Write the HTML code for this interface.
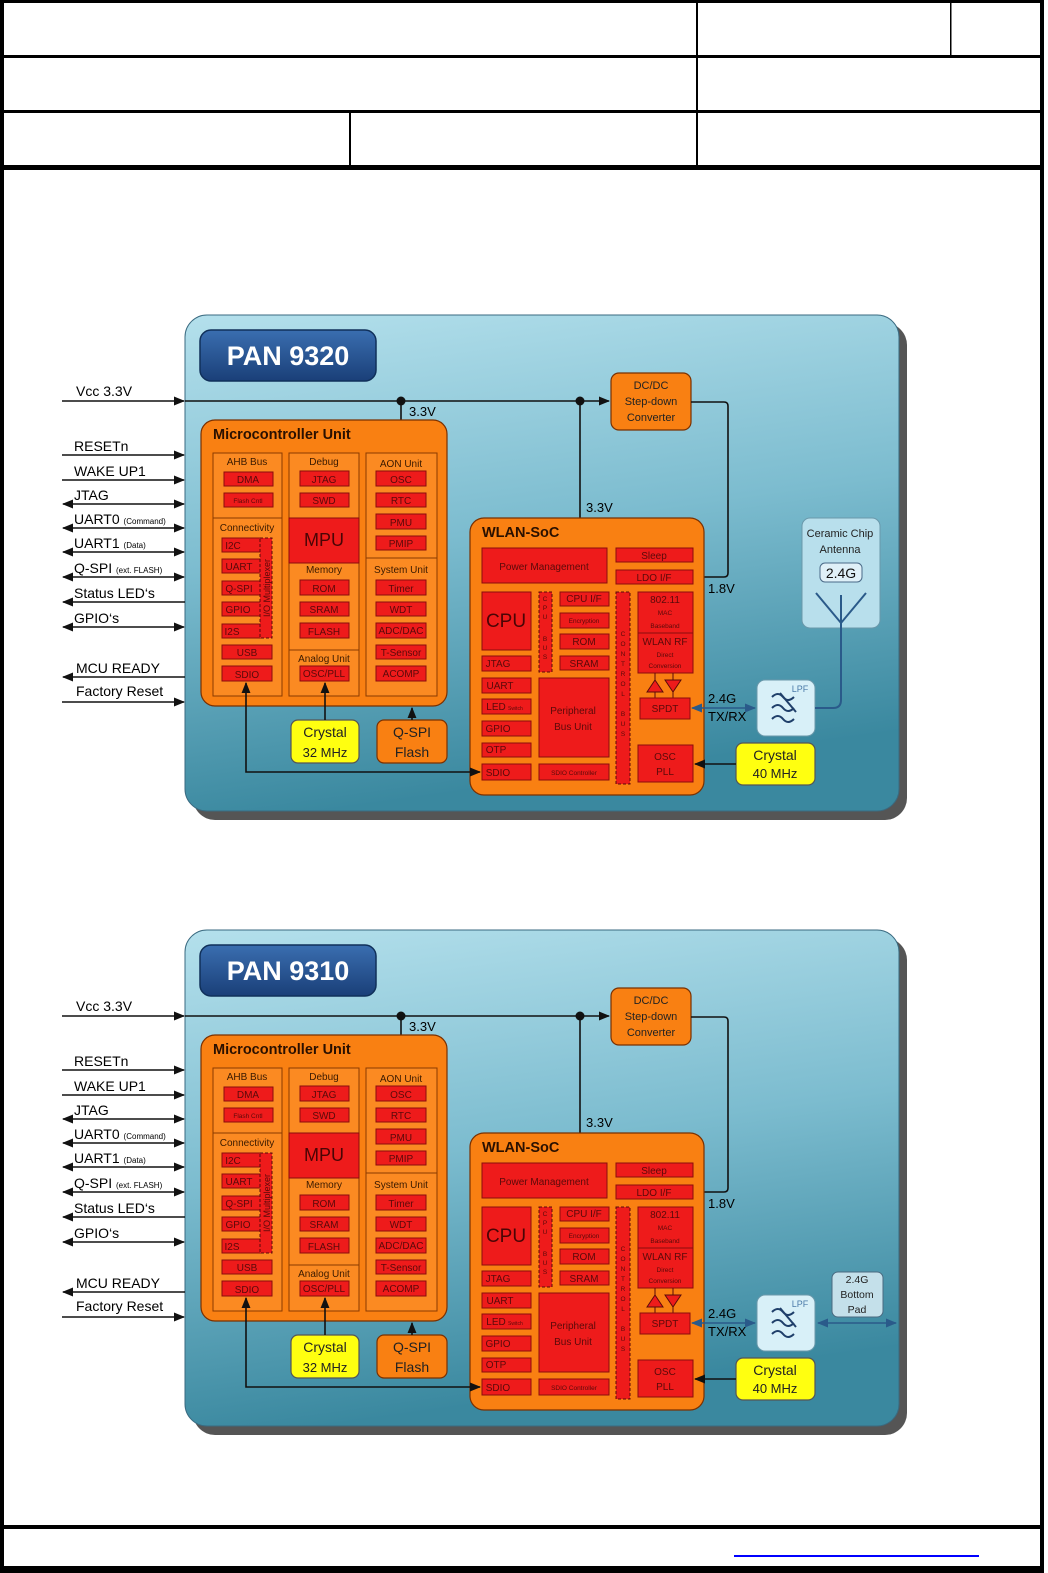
<!DOCTYPE html>
<html><head><meta charset="utf-8">
<style>
html,body{margin:0;padding:0;background:#fff;}
svg{display:block;}
text{font-family:"Liberation Sans",sans-serif;}
.r{fill:#ee1b1b;stroke:#8a0c0c;stroke-width:1;}
.rt{fill:#5a0a0a;font-size:10px;text-anchor:middle;}
.st{fill:#5a0a0a;font-size:6.5px;text-anchor:middle;}
.col{fill:#fb8a22;stroke:#8a3a00;stroke-width:1;}
.ch{fill:#3a1a00;font-size:10px;text-anchor:middle;}
.sig{fill:#000;font-size:14px;}
.ln{stroke:#111;stroke-width:1.6;fill:none;}
.bl{stroke:#2a5a8a;stroke-width:1.6;fill:none;}
.org{fill:#f98012;stroke:#7a3000;stroke-width:1.2;}
.yel{fill:#ffff10;stroke:#555;stroke-width:1.2;}
.lbl{fill:#000;font-size:13px;}
</style></head>
<body>
<svg width="1048" height="1573" viewBox="0 0 1048 1573" xmlns="http://www.w3.org/2000/svg">
<defs>
<linearGradient id="pg" x1="0" y1="0" x2="0.2" y2="1">
<stop offset="0" stop-color="#b4e0ec"/><stop offset="0.5" stop-color="#7cbccf"/><stop offset="1" stop-color="#3a889f"/>
</linearGradient>
<linearGradient id="tg" x1="0" y1="0" x2="0" y2="1">
<stop offset="0" stop-color="#3a6eb0"/><stop offset="1" stop-color="#1a3f78"/>
</linearGradient>
<marker id="ar" viewBox="0 0 10 10" refX="9" refY="5" markerWidth="7" markerHeight="7" orient="auto-start-reverse"><path d="M0,1 L10,5 L0,9 z" fill="#111"/></marker>
<marker id="ab" viewBox="0 0 10 10" refX="9" refY="5" markerWidth="7" markerHeight="7" orient="auto-start-reverse"><path d="M0,1 L10,5 L0,9 z" fill="#2a5a8a"/></marker>
</defs>

<rect x="0" y="0" width="1048" height="1573" fill="#fff"/>
<rect x="0" y="0" width="1044" height="3" fill="#000"/>
<rect x="0" y="0" width="4" height="1573" fill="#000"/>
<rect x="1040" y="0" width="4" height="1573" fill="#000"/>
<rect x="0" y="55" width="1044" height="3" fill="#000"/>
<rect x="0" y="110" width="1044" height="3" fill="#000"/>
<rect x="0" y="165" width="1044" height="5" fill="#000"/>
<rect x="696" y="0" width="2" height="168" fill="#000"/>
<rect x="950" y="0" width="1.5" height="57" fill="#000"/>
<rect x="349" y="112" width="2" height="56" fill="#000"/>
<rect x="0" y="1525" width="1044" height="4" fill="#000"/>
<rect x="0" y="1566" width="1044" height="7" fill="#000"/>
<rect x="734" y="1555" width="245" height="2" fill="#0000ff"/>

<!-- BLOCK 1 -->
<g id="b1">
<rect x="193" y="323" width="714" height="497" rx="22" fill="#555"/>
<rect x="185" y="315" width="714" height="496" rx="22" fill="url(#pg)" stroke="#3a6a80" stroke-width="1"/>
<rect x="200" y="330" width="176" height="51" rx="11" fill="url(#tg)" stroke="#10305a" stroke-width="1.5"/>
<text x="288" y="365" font-size="27" font-weight="bold" fill="#fff" text-anchor="middle">PAN 9320</text>

<g class="ln">
<line x1="62" y1="401" x2="184" y2="401" marker-end="url(#ar)"/>
<line x1="62" y1="455" x2="184" y2="455" marker-end="url(#ar)"/>
<line x1="62" y1="480" x2="184" y2="480" marker-end="url(#ar)"/>
<line x1="63" y1="504" x2="184" y2="504" marker-start="url(#ar)" marker-end="url(#ar)"/>
<line x1="63" y1="528" x2="184" y2="528" marker-start="url(#ar)" marker-end="url(#ar)"/>
<line x1="63" y1="552" x2="184" y2="552" marker-start="url(#ar)" marker-end="url(#ar)"/>
<line x1="63" y1="577" x2="184" y2="577" marker-start="url(#ar)" marker-end="url(#ar)"/>
<line x1="63" y1="602" x2="185" y2="602" marker-start="url(#ar)"/>
<line x1="63" y1="627" x2="184" y2="627" marker-start="url(#ar)" marker-end="url(#ar)"/>
<line x1="63" y1="677" x2="185" y2="677" marker-start="url(#ar)"/>
<line x1="62" y1="702" x2="184" y2="702" marker-end="url(#ar)"/>
</g>
<text class="sig" x="76" y="396">Vcc 3.3V</text>
<text class="sig" x="74" y="451">RESETn</text>
<text class="sig" x="74" y="476">WAKE UP1</text>
<text class="sig" x="74" y="500">JTAG</text>
<text class="sig" x="74" y="524">UART0 <tspan font-size="8">(Command)</tspan></text>
<text class="sig" x="74" y="548">UART1 <tspan font-size="8">(Data)</tspan></text>
<text class="sig" x="74" y="573">Q-SPI <tspan font-size="8">(ext. FLASH)</tspan></text>
<text class="sig" x="74" y="598">Status LED‘s</text>
<text class="sig" x="74" y="623">GPIO‘s</text>
<text class="sig" x="76" y="673">MCU READY</text>
<text class="sig" x="76" y="696">Factory Reset</text>

<line class="ln" x1="185" y1="401" x2="609" y2="401" marker-end="url(#ar)"/>
<circle cx="401" cy="401" r="4.5" fill="#111"/>
<circle cx="580" cy="401" r="4.5" fill="#111"/>
<line class="ln" x1="401" y1="401" x2="401" y2="452" marker-end="url(#ar)"/>
<text class="lbl" x="409" y="416">3.3V</text>
<line class="ln" x1="580" y1="401" x2="580" y2="547" marker-end="url(#ar)"/>
<text class="lbl" x="586" y="512">3.3V</text>
<rect class="org" x="611" y="373" width="80" height="57" rx="8"/>
<text x="651" y="389" font-size="11" text-anchor="middle" fill="#222">DC/DC</text>
<text x="651" y="405" font-size="11" text-anchor="middle" fill="#222">Step-down</text>
<text x="651" y="421" font-size="11" text-anchor="middle" fill="#222">Converter</text>
<path class="ln" d="M691,402 H724 Q728,402 728,406 V573 Q728,577 724,577 H694" marker-end="url(#ar)"/>
<text class="lbl" x="708" y="593">1.8V</text>

<rect class="org" x="201" y="420" width="246" height="286" rx="14" stroke-width="1.8"/>
<text x="213" y="439" font-size="14.5" font-weight="bold" fill="#2a1000">Microcontroller Unit</text>
<rect class="col" x="213" y="453" width="69" height="243"/>
<rect class="col" x="289" y="453" width="70" height="243"/>
<rect class="col" x="366" y="453" width="71" height="243"/>
<line x1="213" y1="518" x2="282" y2="518" stroke="#8a3a00"/>
<line x1="366" y1="558" x2="437" y2="558" stroke="#8a3a00"/>
<line x1="289" y1="650" x2="359" y2="650" stroke="#8a3a00"/>
<text class="ch" x="247" y="465">AHB Bus</text>
<rect class="r" x="224" y="472" width="49" height="14"/><text class="rt" x="248" y="483">DMA</text>
<rect class="r" x="224" y="493" width="49" height="14"/><text class="st" x="248" y="503">Flash Cntl</text>
<text class="ch" x="247" y="531">Connectivity</text>
<rect class="r" x="222" y="538" width="40" height="14"/><text class="rt" x="233" y="549">I2C</text>
<rect class="r" x="222" y="559" width="40" height="14"/><text class="rt" x="239" y="570">UART</text>
<rect class="r" x="222" y="581" width="40" height="14"/><text class="rt" x="239" y="592">Q-SPI</text>
<rect class="r" x="222" y="602" width="40" height="14"/><text class="rt" x="238" y="613">GPIO</text>
<rect class="r" x="222" y="624" width="40" height="14"/><text class="rt" x="232" y="635">I2S</text>
<rect x="260" y="538" width="12" height="100" fill="#ee1b1b" stroke="#5a0a0a" stroke-dasharray="3,2"/>
<text x="270" y="588" font-size="9" fill="#5a0a0a" text-anchor="middle" transform="rotate(-90 270 588)">I/O Multiplexer</text>
<rect class="r" x="222" y="645" width="50" height="14"/><text class="rt" x="247" y="656">USB</text>
<rect class="r" x="222" y="666" width="50" height="15"/><text class="rt" x="247" y="678">SDIO</text>

<text class="ch" x="324" y="465">Debug</text>
<rect class="r" x="300" y="471" width="49" height="15"/><text class="rt" x="324" y="483">JTAG</text>
<rect class="r" x="300" y="493" width="49" height="14"/><text class="rt" x="324" y="504">SWD</text>
<rect x="289" y="518" width="70" height="45" fill="#ee1b1b" stroke="#8a0c0c"/>
<text x="324" y="546" font-size="18" fill="#4a0505" text-anchor="middle">MPU</text>
<text class="ch" x="324" y="573">Memory</text>
<rect class="r" x="300" y="580" width="49" height="15"/><text class="rt" x="324" y="592">ROM</text>
<rect class="r" x="300" y="602" width="49" height="14"/><text class="rt" x="324" y="613">SRAM</text>
<rect class="r" x="300" y="623" width="49" height="15"/><text class="rt" x="324" y="635">FLASH</text>
<text class="ch" x="324" y="662">Analog Unit</text>
<rect class="r" x="300" y="666" width="49" height="15"/><text class="rt" x="324" y="677" font-size="8.5">OSC/PLL</text>

<text class="ch" x="401" y="467">AON Unit</text>
<rect class="r" x="376" y="471" width="50" height="15"/><text class="rt" x="401" y="483">OSC</text>
<rect class="r" x="376" y="493" width="50" height="14"/><text class="rt" x="401" y="504">RTC</text>
<rect class="r" x="376" y="514" width="50" height="15"/><text class="rt" x="401" y="526">PMU</text>
<rect class="r" x="376" y="536" width="50" height="14"/><text class="rt" x="401" y="547">PMIP</text>
<text class="ch" x="401" y="573">System Unit</text>
<rect class="r" x="376" y="580" width="50" height="15"/><text class="rt" x="401" y="592">Timer</text>
<rect class="r" x="376" y="602" width="50" height="14"/><text class="rt" x="401" y="613">WDT</text>
<rect class="r" x="376" y="623" width="50" height="15"/><text class="rt" x="401" y="634" font-size="8">ADC/DAC</text>
<rect class="r" x="376" y="645" width="50" height="14"/><text class="rt" x="401" y="656" font-size="9">T-Sensor</text>
<rect class="r" x="376" y="666" width="50" height="15"/><text class="rt" x="401" y="677" font-size="9">ACOMP</text>

<rect class="yel" x="291" y="720" width="68" height="43" rx="7"/>
<text x="325" y="737" font-size="14" text-anchor="middle" fill="#222">Crystal</text>
<text x="325" y="757" font-size="13" text-anchor="middle" fill="#222">32 MHz</text>
<line class="ln" x1="325" y1="720" x2="325" y2="683" marker-end="url(#ar)"/>
<rect class="org" x="377" y="720" width="70" height="43" rx="7"/>
<text x="412" y="737" font-size="14" text-anchor="middle" fill="#222">Q-SPI</text>
<text x="412" y="757" font-size="14" text-anchor="middle" fill="#222">Flash</text>
<line class="ln" x1="412" y1="720" x2="412" y2="708" marker-end="url(#ar)"/>

<rect class="org" x="470" y="518" width="234" height="277" rx="14" stroke-width="1.8"/>
<text x="482" y="537" font-size="14.5" font-weight="bold" fill="#2a1000">WLAN-SoC</text>
<rect class="r" x="482" y="548" width="125" height="35"/><text class="rt" x="544" y="570" font-size="11">Power Management</text>
<rect class="r" x="616" y="548" width="77" height="14"/><text class="rt" x="654" y="559">Sleep</text>
<rect class="r" x="616" y="570" width="77" height="14"/><text class="rt" x="654" y="581">LDO I/F</text>
<rect class="r" x="482" y="592" width="49" height="58"/><text x="506" y="627" font-size="19" text-anchor="middle" fill="#4a0505">CPU</text>
<rect x="539" y="592" width="13" height="80" fill="#ee1b1b" stroke="#5a0a0a" stroke-dasharray="3,2"/>
<text class="st" x="545" y="601">C</text><text class="st" x="545" y="610">P</text><text class="st" x="545" y="619">U</text>
<text class="st" x="545" y="641">B</text><text class="st" x="545" y="650">U</text><text class="st" x="545" y="659">S</text>
<rect class="r" x="560" y="592" width="49" height="14"/><text class="rt" x="584" y="602" font-size="8.5">CPU I/F</text>
<rect class="r" x="560" y="613" width="49" height="15"/><text class="st" x="584" y="623">Encryption</text>
<rect class="r" x="560" y="634" width="49" height="15"/><text class="rt" x="584" y="645" font-size="9">ROM</text>
<rect class="r" x="560" y="656" width="49" height="14"/><text class="rt" x="584" y="667" font-size="9">SRAM</text>
<rect x="616" y="592" width="14" height="192" fill="#ee1b1b" stroke="#5a0a0a" stroke-dasharray="3,2"/>
<text class="st" x="623" y="636">C</text><text class="st" x="623" y="646">O</text><text class="st" x="623" y="656">N</text><text class="st" x="623" y="666">T</text><text class="st" x="623" y="676">R</text><text class="st" x="623" y="686">O</text><text class="st" x="623" y="696">L</text>
<text class="st" x="623" y="716">B</text><text class="st" x="623" y="726">U</text><text class="st" x="623" y="736">S</text>
<rect class="r" x="638" y="592" width="55" height="81"/>
<line x1="638" y1="633" x2="693" y2="633" stroke="#8a0c0c"/>
<text class="rt" x="665" y="603" font-size="10.5">802.11</text>
<text class="st" x="665" y="615">MAC</text><text class="st" x="665" y="628">Baseband</text>
<text class="rt" x="665" y="645" font-size="10">WLAN RF</text>
<text class="st" x="665" y="657">Direct</text><text class="st" x="665" y="668">Conversion</text>
<line x1="655" y1="673" x2="655" y2="680" stroke="#5a0a0a"/><line x1="673" y1="673" x2="673" y2="680" stroke="#5a0a0a"/>
<path d="M647,692 L655,680 L663,692 z" fill="#ee1b1b" stroke="#5a0a0a"/>
<path d="M665,680 L681,680 L673,692 z" fill="#ee1b1b" stroke="#5a0a0a"/>
<line x1="655" y1="692" x2="655" y2="698" stroke="#5a0a0a"/><line x1="673" y1="692" x2="673" y2="698" stroke="#5a0a0a"/>
<rect class="r" x="640" y="698" width="50" height="21"/><text class="rt" x="665" y="712" font-size="11">SPDT</text>
<rect class="r" x="482" y="656" width="49" height="15"/><text class="rt" x="498" y="667">JTAG</text>
<rect class="r" x="482" y="678" width="49" height="15"/><text class="rt" x="500" y="689">UART</text>
<rect class="r" x="482" y="699" width="49" height="15"/><text class="rt" x="496" y="710">LED</text><text x="508" y="710" font-size="5" fill="#5a0a0a">Switch</text>
<rect class="r" x="482" y="721" width="49" height="15"/><text class="rt" x="498" y="732">GPIO</text>
<rect class="r" x="482" y="743" width="49" height="14"/><text class="rt" x="496" y="753">OTP</text>
<rect class="r" x="482" y="764" width="49" height="16"/><text class="rt" x="498" y="776">SDIO</text>
<rect class="r" x="539" y="678" width="70" height="79"/>
<text class="rt" x="573" y="714" font-size="11.5">Peripheral</text><text class="rt" x="573" y="730" font-size="11.5">Bus Unit</text>
<rect class="r" x="539" y="764" width="70" height="16"/><text class="st" x="574" y="775" font-size="8">SDIO Controller</text>
<rect class="r" x="638" y="745" width="55" height="37"/>
<text class="rt" x="665" y="760" font-size="11">OSC</text><text class="rt" x="665" y="775" font-size="11">PLL</text>
<path class="ln" d="M246,683 V772 H480" marker-start="url(#ar)" marker-end="url(#ar)"/>

<line class="bl" x1="692" y1="708" x2="755" y2="708" marker-start="url(#ab)" marker-end="url(#ab)"/>
<text class="lbl" x="708" y="703">2.4G</text><text class="lbl" x="708" y="721">TX/RX</text>
<rect x="757" y="680" width="58" height="56" rx="8" fill="#d8f0f8" stroke="#6a98aa"/>
<text x="800" y="692" font-size="9" fill="#4a7aa8" text-anchor="middle">LPF</text>
<g stroke="#1f3f6a" stroke-width="2" fill="none">
<path d="M772,697 q6,-6 11,0 t11,0"/><path d="M772,708 q6,-6 11,0 t11,0"/><path d="M772,719 q6,-6 11,0 t11,0"/>
<path d="M780,693 L796,712"/>
</g>
<rect class="yel" x="736" y="743" width="79" height="42" rx="7"/>
<text x="775" y="760" font-size="14" text-anchor="middle" fill="#222">Crystal</text>
<text x="775" y="778" font-size="13" text-anchor="middle" fill="#222">40 MHz</text>
<line class="ln" x1="736" y1="764" x2="695" y2="764" marker-end="url(#ar)"/>
<rect x="802" y="518" width="78" height="110" rx="8" fill="#b8dfec" stroke="#6a98aa"/>
<text x="840" y="537" font-size="11" text-anchor="middle" fill="#222">Ceramic Chip</text>
<text x="840" y="553" font-size="11" text-anchor="middle" fill="#222">Antenna</text>
<rect x="820" y="563" width="42" height="19" rx="5" fill="#dff0f8" stroke="#4a6a88"/>
<text x="841" y="578" font-size="14" text-anchor="middle" fill="#111">2.4G</text>
<g stroke="#2a5a8a" stroke-width="2" fill="none">
<path d="M816,593 L841,623 L866,593"/><line x1="841" y1="595" x2="841" y2="623"/>
<path d="M841,623 V700 Q841,708 833,708 H815"/>
</g>
</g>

<!-- BLOCK 2 -->
<g transform="translate(0,615)">
<rect x="193" y="323" width="714" height="497" rx="22" fill="#555"/>
<rect x="185" y="315" width="714" height="496" rx="22" fill="url(#pg)" stroke="#3a6a80" stroke-width="1"/>
<rect x="200" y="330" width="176" height="51" rx="11" fill="url(#tg)" stroke="#10305a" stroke-width="1.5"/>
<text x="288" y="365" font-size="27" font-weight="bold" fill="#fff" text-anchor="middle">PAN 9310</text>

<g class="ln">
<line x1="62" y1="401" x2="184" y2="401" marker-end="url(#ar)"/>
<line x1="62" y1="455" x2="184" y2="455" marker-end="url(#ar)"/>
<line x1="62" y1="480" x2="184" y2="480" marker-end="url(#ar)"/>
<line x1="63" y1="504" x2="184" y2="504" marker-start="url(#ar)" marker-end="url(#ar)"/>
<line x1="63" y1="528" x2="184" y2="528" marker-start="url(#ar)" marker-end="url(#ar)"/>
<line x1="63" y1="552" x2="184" y2="552" marker-start="url(#ar)" marker-end="url(#ar)"/>
<line x1="63" y1="577" x2="184" y2="577" marker-start="url(#ar)" marker-end="url(#ar)"/>
<line x1="63" y1="602" x2="185" y2="602" marker-start="url(#ar)"/>
<line x1="63" y1="627" x2="184" y2="627" marker-start="url(#ar)" marker-end="url(#ar)"/>
<line x1="63" y1="677" x2="185" y2="677" marker-start="url(#ar)"/>
<line x1="62" y1="702" x2="184" y2="702" marker-end="url(#ar)"/>
</g>
<text class="sig" x="76" y="396">Vcc 3.3V</text>
<text class="sig" x="74" y="451">RESETn</text>
<text class="sig" x="74" y="476">WAKE UP1</text>
<text class="sig" x="74" y="500">JTAG</text>
<text class="sig" x="74" y="524">UART0 <tspan font-size="8">(Command)</tspan></text>
<text class="sig" x="74" y="548">UART1 <tspan font-size="8">(Data)</tspan></text>
<text class="sig" x="74" y="573">Q-SPI <tspan font-size="8">(ext. FLASH)</tspan></text>
<text class="sig" x="74" y="598">Status LED‘s</text>
<text class="sig" x="74" y="623">GPIO‘s</text>
<text class="sig" x="76" y="673">MCU READY</text>
<text class="sig" x="76" y="696">Factory Reset</text>

<line class="ln" x1="185" y1="401" x2="609" y2="401" marker-end="url(#ar)"/>
<circle cx="401" cy="401" r="4.5" fill="#111"/>
<circle cx="580" cy="401" r="4.5" fill="#111"/>
<line class="ln" x1="401" y1="401" x2="401" y2="452" marker-end="url(#ar)"/>
<text class="lbl" x="409" y="416">3.3V</text>
<line class="ln" x1="580" y1="401" x2="580" y2="547" marker-end="url(#ar)"/>
<text class="lbl" x="586" y="512">3.3V</text>
<rect class="org" x="611" y="373" width="80" height="57" rx="8"/>
<text x="651" y="389" font-size="11" text-anchor="middle" fill="#222">DC/DC</text>
<text x="651" y="405" font-size="11" text-anchor="middle" fill="#222">Step-down</text>
<text x="651" y="421" font-size="11" text-anchor="middle" fill="#222">Converter</text>
<path class="ln" d="M691,402 H724 Q728,402 728,406 V573 Q728,577 724,577 H694" marker-end="url(#ar)"/>
<text class="lbl" x="708" y="593">1.8V</text>

<rect class="org" x="201" y="420" width="246" height="286" rx="14" stroke-width="1.8"/>
<text x="213" y="439" font-size="14.5" font-weight="bold" fill="#2a1000">Microcontroller Unit</text>
<rect class="col" x="213" y="453" width="69" height="243"/>
<rect class="col" x="289" y="453" width="70" height="243"/>
<rect class="col" x="366" y="453" width="71" height="243"/>
<line x1="213" y1="518" x2="282" y2="518" stroke="#8a3a00"/>
<line x1="366" y1="558" x2="437" y2="558" stroke="#8a3a00"/>
<line x1="289" y1="650" x2="359" y2="650" stroke="#8a3a00"/>
<text class="ch" x="247" y="465">AHB Bus</text>
<rect class="r" x="224" y="472" width="49" height="14"/><text class="rt" x="248" y="483">DMA</text>
<rect class="r" x="224" y="493" width="49" height="14"/><text class="st" x="248" y="503">Flash Cntl</text>
<text class="ch" x="247" y="531">Connectivity</text>
<rect class="r" x="222" y="538" width="40" height="14"/><text class="rt" x="233" y="549">I2C</text>
<rect class="r" x="222" y="559" width="40" height="14"/><text class="rt" x="239" y="570">UART</text>
<rect class="r" x="222" y="581" width="40" height="14"/><text class="rt" x="239" y="592">Q-SPI</text>
<rect class="r" x="222" y="602" width="40" height="14"/><text class="rt" x="238" y="613">GPIO</text>
<rect class="r" x="222" y="624" width="40" height="14"/><text class="rt" x="232" y="635">I2S</text>
<rect x="260" y="538" width="12" height="100" fill="#ee1b1b" stroke="#5a0a0a" stroke-dasharray="3,2"/>
<text x="270" y="588" font-size="9" fill="#5a0a0a" text-anchor="middle" transform="rotate(-90 270 588)">I/O Multiplexer</text>
<rect class="r" x="222" y="645" width="50" height="14"/><text class="rt" x="247" y="656">USB</text>
<rect class="r" x="222" y="666" width="50" height="15"/><text class="rt" x="247" y="678">SDIO</text>

<text class="ch" x="324" y="465">Debug</text>
<rect class="r" x="300" y="471" width="49" height="15"/><text class="rt" x="324" y="483">JTAG</text>
<rect class="r" x="300" y="493" width="49" height="14"/><text class="rt" x="324" y="504">SWD</text>
<rect x="289" y="518" width="70" height="45" fill="#ee1b1b" stroke="#8a0c0c"/>
<text x="324" y="546" font-size="18" fill="#4a0505" text-anchor="middle">MPU</text>
<text class="ch" x="324" y="573">Memory</text>
<rect class="r" x="300" y="580" width="49" height="15"/><text class="rt" x="324" y="592">ROM</text>
<rect class="r" x="300" y="602" width="49" height="14"/><text class="rt" x="324" y="613">SRAM</text>
<rect class="r" x="300" y="623" width="49" height="15"/><text class="rt" x="324" y="635">FLASH</text>
<text class="ch" x="324" y="662">Analog Unit</text>
<rect class="r" x="300" y="666" width="49" height="15"/><text class="rt" x="324" y="677" font-size="8.5">OSC/PLL</text>

<text class="ch" x="401" y="467">AON Unit</text>
<rect class="r" x="376" y="471" width="50" height="15"/><text class="rt" x="401" y="483">OSC</text>
<rect class="r" x="376" y="493" width="50" height="14"/><text class="rt" x="401" y="504">RTC</text>
<rect class="r" x="376" y="514" width="50" height="15"/><text class="rt" x="401" y="526">PMU</text>
<rect class="r" x="376" y="536" width="50" height="14"/><text class="rt" x="401" y="547">PMIP</text>
<text class="ch" x="401" y="573">System Unit</text>
<rect class="r" x="376" y="580" width="50" height="15"/><text class="rt" x="401" y="592">Timer</text>
<rect class="r" x="376" y="602" width="50" height="14"/><text class="rt" x="401" y="613">WDT</text>
<rect class="r" x="376" y="623" width="50" height="15"/><text class="rt" x="401" y="634" font-size="8">ADC/DAC</text>
<rect class="r" x="376" y="645" width="50" height="14"/><text class="rt" x="401" y="656" font-size="9">T-Sensor</text>
<rect class="r" x="376" y="666" width="50" height="15"/><text class="rt" x="401" y="677" font-size="9">ACOMP</text>

<rect class="yel" x="291" y="720" width="68" height="43" rx="7"/>
<text x="325" y="737" font-size="14" text-anchor="middle" fill="#222">Crystal</text>
<text x="325" y="757" font-size="13" text-anchor="middle" fill="#222">32 MHz</text>
<line class="ln" x1="325" y1="720" x2="325" y2="683" marker-end="url(#ar)"/>
<rect class="org" x="377" y="720" width="70" height="43" rx="7"/>
<text x="412" y="737" font-size="14" text-anchor="middle" fill="#222">Q-SPI</text>
<text x="412" y="757" font-size="14" text-anchor="middle" fill="#222">Flash</text>
<line class="ln" x1="412" y1="720" x2="412" y2="708" marker-end="url(#ar)"/>

<rect class="org" x="470" y="518" width="234" height="277" rx="14" stroke-width="1.8"/>
<text x="482" y="537" font-size="14.5" font-weight="bold" fill="#2a1000">WLAN-SoC</text>
<rect class="r" x="482" y="548" width="125" height="35"/><text class="rt" x="544" y="570" font-size="11">Power Management</text>
<rect class="r" x="616" y="548" width="77" height="14"/><text class="rt" x="654" y="559">Sleep</text>
<rect class="r" x="616" y="570" width="77" height="14"/><text class="rt" x="654" y="581">LDO I/F</text>
<rect class="r" x="482" y="592" width="49" height="58"/><text x="506" y="627" font-size="19" text-anchor="middle" fill="#4a0505">CPU</text>
<rect x="539" y="592" width="13" height="80" fill="#ee1b1b" stroke="#5a0a0a" stroke-dasharray="3,2"/>
<text class="st" x="545" y="601">C</text><text class="st" x="545" y="610">P</text><text class="st" x="545" y="619">U</text>
<text class="st" x="545" y="641">B</text><text class="st" x="545" y="650">U</text><text class="st" x="545" y="659">S</text>
<rect class="r" x="560" y="592" width="49" height="14"/><text class="rt" x="584" y="602" font-size="8.5">CPU I/F</text>
<rect class="r" x="560" y="613" width="49" height="15"/><text class="st" x="584" y="623">Encryption</text>
<rect class="r" x="560" y="634" width="49" height="15"/><text class="rt" x="584" y="645" font-size="9">ROM</text>
<rect class="r" x="560" y="656" width="49" height="14"/><text class="rt" x="584" y="667" font-size="9">SRAM</text>
<rect x="616" y="592" width="14" height="192" fill="#ee1b1b" stroke="#5a0a0a" stroke-dasharray="3,2"/>
<text class="st" x="623" y="636">C</text><text class="st" x="623" y="646">O</text><text class="st" x="623" y="656">N</text><text class="st" x="623" y="666">T</text><text class="st" x="623" y="676">R</text><text class="st" x="623" y="686">O</text><text class="st" x="623" y="696">L</text>
<text class="st" x="623" y="716">B</text><text class="st" x="623" y="726">U</text><text class="st" x="623" y="736">S</text>
<rect class="r" x="638" y="592" width="55" height="81"/>
<line x1="638" y1="633" x2="693" y2="633" stroke="#8a0c0c"/>
<text class="rt" x="665" y="603" font-size="10.5">802.11</text>
<text class="st" x="665" y="615">MAC</text><text class="st" x="665" y="628">Baseband</text>
<text class="rt" x="665" y="645" font-size="10">WLAN RF</text>
<text class="st" x="665" y="657">Direct</text><text class="st" x="665" y="668">Conversion</text>
<line x1="655" y1="673" x2="655" y2="680" stroke="#5a0a0a"/><line x1="673" y1="673" x2="673" y2="680" stroke="#5a0a0a"/>
<path d="M647,692 L655,680 L663,692 z" fill="#ee1b1b" stroke="#5a0a0a"/>
<path d="M665,680 L681,680 L673,692 z" fill="#ee1b1b" stroke="#5a0a0a"/>
<line x1="655" y1="692" x2="655" y2="698" stroke="#5a0a0a"/><line x1="673" y1="692" x2="673" y2="698" stroke="#5a0a0a"/>
<rect class="r" x="640" y="698" width="50" height="21"/><text class="rt" x="665" y="712" font-size="11">SPDT</text>
<rect class="r" x="482" y="656" width="49" height="15"/><text class="rt" x="498" y="667">JTAG</text>
<rect class="r" x="482" y="678" width="49" height="15"/><text class="rt" x="500" y="689">UART</text>
<rect class="r" x="482" y="699" width="49" height="15"/><text class="rt" x="496" y="710">LED</text><text x="508" y="710" font-size="5" fill="#5a0a0a">Switch</text>
<rect class="r" x="482" y="721" width="49" height="15"/><text class="rt" x="498" y="732">GPIO</text>
<rect class="r" x="482" y="743" width="49" height="14"/><text class="rt" x="496" y="753">OTP</text>
<rect class="r" x="482" y="764" width="49" height="16"/><text class="rt" x="498" y="776">SDIO</text>
<rect class="r" x="539" y="678" width="70" height="79"/>
<text class="rt" x="573" y="714" font-size="11.5">Peripheral</text><text class="rt" x="573" y="730" font-size="11.5">Bus Unit</text>
<rect class="r" x="539" y="764" width="70" height="16"/><text class="st" x="574" y="775" font-size="8">SDIO Controller</text>
<rect class="r" x="638" y="745" width="55" height="37"/>
<text class="rt" x="665" y="760" font-size="11">OSC</text><text class="rt" x="665" y="775" font-size="11">PLL</text>
<path class="ln" d="M246,683 V772 H480" marker-start="url(#ar)" marker-end="url(#ar)"/>

<line class="bl" x1="692" y1="708" x2="755" y2="708" marker-start="url(#ab)" marker-end="url(#ab)"/>
<text class="lbl" x="708" y="703">2.4G</text><text class="lbl" x="708" y="721">TX/RX</text>
<rect x="757" y="680" width="58" height="56" rx="8" fill="#d8f0f8" stroke="#6a98aa"/>
<text x="800" y="692" font-size="9" fill="#4a7aa8" text-anchor="middle">LPF</text>
<g stroke="#1f3f6a" stroke-width="2" fill="none">
<path d="M772,697 q6,-6 11,0 t11,0"/><path d="M772,708 q6,-6 11,0 t11,0"/><path d="M772,719 q6,-6 11,0 t11,0"/>
<path d="M780,693 L796,712"/>
</g>
<rect class="yel" x="736" y="743" width="79" height="42" rx="7"/>
<text x="775" y="760" font-size="14" text-anchor="middle" fill="#222">Crystal</text>
<text x="775" y="778" font-size="13" text-anchor="middle" fill="#222">40 MHz</text>
<line class="ln" x1="736" y1="764" x2="695" y2="764" marker-end="url(#ar)"/>
<rect x="832" y="657" width="51" height="45" rx="6" fill="#c4e0ea" stroke="#4a6a80"/>
<text x="857" y="668" font-size="10.5" text-anchor="middle" fill="#222">2.4G</text>
<text x="857" y="683" font-size="10.5" text-anchor="middle" fill="#222">Bottom</text>
<text x="857" y="698" font-size="10.5" text-anchor="middle" fill="#222">Pad</text>
<line class="bl" x1="818" y1="708" x2="896" y2="708" marker-start="url(#ab)" marker-end="url(#ab)"/>
</g>
</svg>
</body></html>
